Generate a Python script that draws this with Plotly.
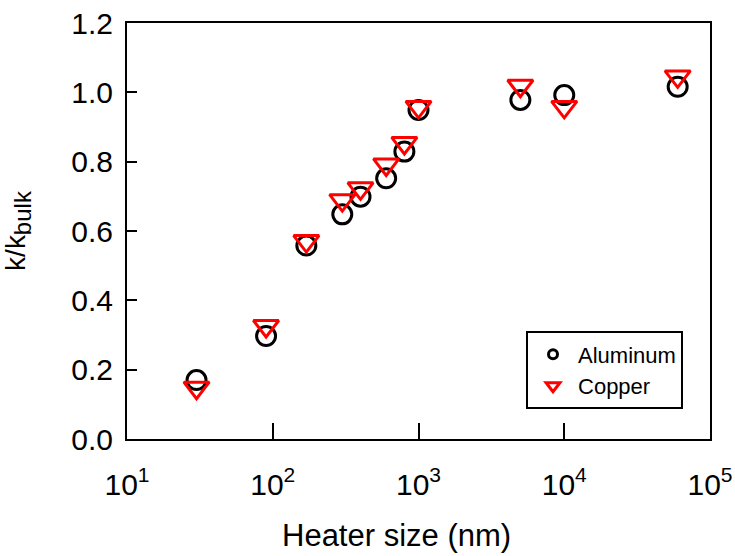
import plotly.graph_objects as go

heater_size = [30, 90, 170, 300, 400, 600, 800, 1000, 5000, 10000, 60000]
aluminum = [0.170, 0.297, 0.558, 0.648, 0.699, 0.752, 0.829, 0.949, 0.978, 0.992, 1.016]
copper = [0.148, 0.326, 0.571, 0.689, 0.723, 0.792, 0.854, 0.958, 1.019, 0.958, 1.046]

x_tickvals = [10, 100, 1000, 10000, 100000]
x_ticktext = ["10<sup>1</sup>", "10<sup>2</sup>", "10<sup>3</sup>", "10<sup>4</sup>", "10<sup>5</sup>"]
y_tickvals = [0.0, 0.2, 0.4, 0.6, 0.8, 1.0, 1.2]
x_title = "Heater size (nm)"

FONT = "Liberation Sans, Arial, Helvetica, sans-serif"

fig = go.Figure()
fig.add_trace(go.Scatter(
    x=heater_size, y=aluminum, mode="markers", name="Aluminum", showlegend=False,
    marker=dict(symbol="circle-open", size=19, color="black", line=dict(width=3, color="black")),
))
fig.add_trace(go.Scatter(
    x=heater_size, y=copper, mode="markers", name="Copper", showlegend=False,
    marker=dict(symbol="triangle-down-open", size=22, color="#ff0000", line=dict(width=3, color="#ff0000")),
))
# legend entries with smaller symbols
fig.add_trace(go.Scatter(
    x=[None], y=[None], mode="markers", name="Aluminum",
    marker=dict(symbol="circle-open", size=9, color="black", line=dict(width=3, color="black")),
))
fig.add_trace(go.Scatter(
    x=[None], y=[None], mode="markers", name="Copper",
    marker=dict(symbol="triangle-down-open", size=12, color="#ff0000", line=dict(width=3, color="#ff0000")),
))

fig.update_layout(
    width=735, height=556,
    margin=dict(l=127, r=25, t=23, b=117, autoexpand=False),
    paper_bgcolor="white", plot_bgcolor="white",
    font=dict(family=FONT, size=30, color="black"),
    showlegend=True,
    legend=dict(
        x=0.9537, y=0.165, xanchor="right", yanchor="middle",
        bordercolor="black", borderwidth=2, bgcolor="white",
        font=dict(family=FONT, size=22, color="black"),
        tracegroupgap=0, itemwidth=40,
    ),
    annotations=[dict(
        text=x_title, xref="paper", yref="paper", x=0.463, y=-0.232,
        xanchor="center", yanchor="middle", showarrow=False,
        font=dict(family=FONT, size=31, color="black"),
    )],
)
fig.update_xaxes(
    type="log", range=[1, 5], automargin=False,
    tickvals=x_tickvals, ticktext=x_ticktext,
    showline=True, linecolor="black", linewidth=2, mirror=True,
    ticks="inside", ticklen=16, tickwidth=2, tickcolor="black",
    showgrid=False, zeroline=False,
    tickfont=dict(family=FONT, size=30, color="black"),
    ticklabelstandoff=18,
)
fig.update_yaxes(
    range=[0, 1.2], tickvals=y_tickvals, tickformat=".1f", automargin=False,
    showline=True, linecolor="black", linewidth=2, mirror=True,
    ticks="inside", ticklen=10, tickwidth=2, tickcolor="black",
    showgrid=False, zeroline=False,
    tickfont=dict(family=FONT, size=30, color="black"),
    ticklabelstandoff=6,
    title=dict(text="k/k<sub><span style='font-size:24px'>bulk</span></sub>",
               font=dict(family=FONT, size=28, color="black"), standoff=40),
)

fig.write_html("out.html")
